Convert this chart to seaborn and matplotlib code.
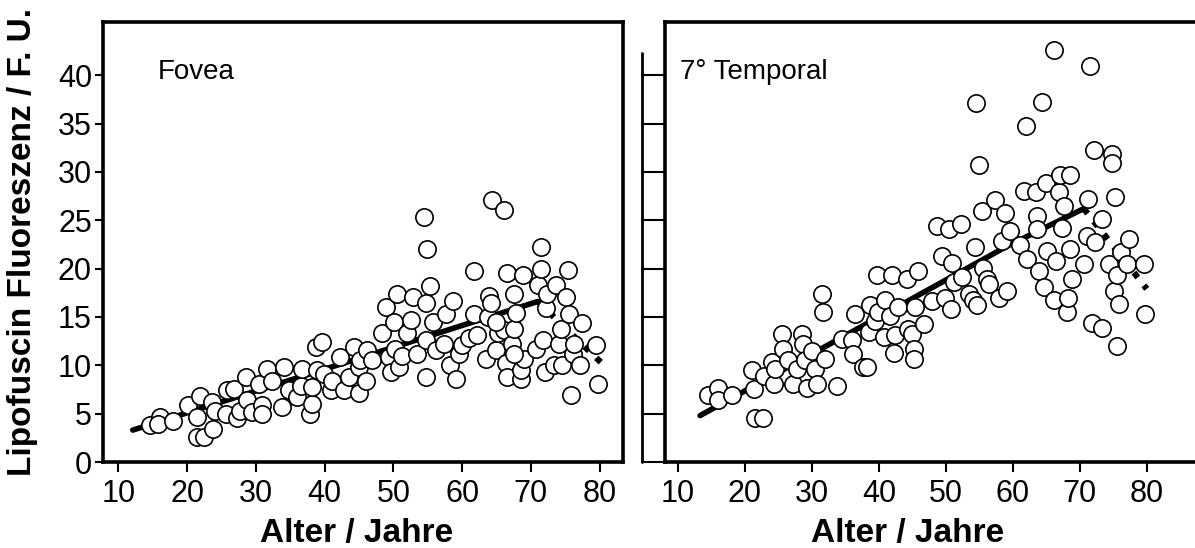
import numpy as np
import pandas as pd
import matplotlib.pyplot as plt
import seaborn as sns
from matplotlib.lines import Line2D

# ---------------- Daten ----------------
fovea_alter = [14.6, 16.0, 15.8, 17.9, 20.2, 21.4, 21.9, 21.4, 22.4, 23.8, 23.6, 24.1,
               25.8, 25.7, 26.8, 27.2, 27.7, 28.5, 28.7, 29.4, 30.4, 30.9, 30.9, 31.6,
               32.4, 33.8, 34.1, 34.8, 36.0, 36.5, 36.7, 37.9, 38.2, 38.2, 38.7, 38.9,
               39.6, 39.9, 40.9, 41.1, 42.3, 42.8, 43.5, 44.3, 45.0, 45.0, 45.2, 46.0,
               46.2, 46.9, 48.4, 48.9, 49.4, 49.6, 50.1, 50.3, 50.6, 50.8, 51.3, 52.0,
               52.5, 52.8, 53.5, 54.5, 54.7, 54.7, 54.8, 54.9, 55.4, 55.7, 56.2, 57.4,
               57.6, 58.3, 58.7, 59.1, 59.6, 60.0, 61.0, 61.7, 61.7, 62.2, 63.5, 63.7,
               63.9, 64.2, 64.4, 64.9, 65.2, 66.1, 66.1, 66.4, 66.6, 66.6, 67.3, 67.6,
               67.6, 67.8, 68.6, 68.8, 68.6, 69.0, 70.7, 71.0, 71.5, 71.5, 71.7, 72.0,
               72.2, 72.4, 73.4, 73.7, 74.1, 74.4, 74.6, 75.1, 75.4, 75.6, 75.8, 76.1,
               76.3, 77.1, 77.5, 79.5, 79.7, 64.9, 67.6]
fovea_wert = [3.8, 4.7, 3.9, 4.2, 5.9, 4.7, 6.8, 2.6, 2.6, 3.4, 6.2, 5.3,
              7.4, 5.0, 7.6, 4.5, 5.3, 8.8, 6.4, 5.2, 8.1, 5.9, 5.0, 9.6,
              8.4, 5.7, 9.8, 7.4, 6.7, 7.9, 9.6, 5.0, 6.0, 7.8, 11.9, 9.5,
              12.4, 9.1, 7.4, 8.4, 10.9, 7.4, 8.8, 11.9, 9.8, 7.1, 10.5, 8.4,
              11.6, 10.5, 13.3, 16.0, 10.9, 9.3, 14.5, 11.7, 17.4, 9.8, 11.0, 13.3,
              14.7, 17.1, 11.2, 25.3, 12.6, 16.4, 8.8, 22.0, 18.2, 14.5, 11.6, 12.2,
              15.3, 10.0, 16.6, 8.6, 11.2, 12.1, 12.8, 19.8, 15.3, 13.1, 10.7, 15.0,
              17.2, 16.4, 27.1, 11.6, 13.3, 26.1, 13.6, 10.2, 19.5, 8.8, 12.2, 17.4,
              13.8, 15.4, 8.6, 19.3, 9.5, 10.7, 11.7, 18.3, 22.2, 20.0, 12.6, 9.3,
              15.9, 17.4, 10.0, 18.3, 12.2, 13.8, 10.0, 17.1, 19.9, 15.3, 6.9, 11.2,
              12.2, 10.0, 14.4, 12.1, 8.1, 14.5, 11.2]

temporal_alter = [14.5, 16.0, 16.0, 18.0, 21.0, 21.5, 22.7, 21.3, 22.8, 24.0, 24.3, 24.5,
                  25.5, 25.7, 26.5, 27.2, 27.7, 28.5, 28.7, 29.0, 29.2, 30.0, 30.5, 30.7,
                  31.5, 31.7, 32.0, 33.7, 34.5, 36.0, 36.2, 36.5, 37.7, 38.2, 38.5, 38.7,
                  39.4, 39.7, 39.9, 40.7, 40.9, 41.7, 41.9, 42.2, 42.4, 42.9, 44.2, 44.4,
                  44.9, 45.2, 45.2, 45.4, 45.9, 46.7, 47.9, 48.7, 49.4, 49.9, 50.4, 50.7,
                  50.9, 51.2, 52.2, 52.4, 53.4, 54.1, 54.4, 54.5, 54.6, 55.0, 55.4, 55.6,
                  56.1, 56.4, 57.4, 57.9, 58.4, 58.9, 59.1, 59.6, 61.1, 61.9, 61.6, 62.1,
                  63.4, 63.6, 63.6, 63.9, 64.4, 64.6, 64.9, 65.1, 66.1, 66.4, 66.1, 66.9,
                  67.1, 67.3, 67.6, 68.1, 68.3, 68.6, 68.6, 68.8, 70.6, 71.1, 71.3, 71.6,
                  71.8, 72.1, 72.3, 73.3, 73.3, 74.3, 74.8, 74.8, 75.1, 75.3, 75.6, 75.6,
                  75.8, 76.1, 77.1, 77.3, 79.6, 79.8]
temporal_wert = [6.9, 7.7, 6.4, 6.9, 9.5, 4.5, 4.6, 7.6, 8.9, 10.3, 8.1, 9.6,
                 13.2, 11.7, 10.5, 8.1, 9.6, 13.2, 12.2, 10.5, 7.7, 11.5, 9.6, 8.1,
                 17.4, 15.5, 10.7, 7.9, 12.7, 12.6, 11.2, 15.3, 9.8, 9.8, 13.4, 16.2,
                 14.6, 19.3, 15.5, 12.9, 16.8, 15.1, 19.3, 11.3, 13.1, 16.0, 18.9, 13.8,
                 13.2, 11.7, 10.7, 16.0, 19.8, 14.3, 16.7, 24.4, 21.3, 17.0, 24.1, 15.8,
                 20.6, 18.6, 24.6, 19.1, 17.4, 16.8, 22.2, 37.1, 16.2, 30.7, 26.0, 20.1,
                 18.9, 18.4, 27.1, 17.0, 22.9, 25.8, 17.7, 23.9, 22.4, 34.7, 28.0, 21.0,
                 27.9, 25.4, 24.1, 19.7, 37.2, 18.1, 28.9, 21.8, 42.6, 20.8, 16.8, 27.9,
                 29.7, 24.2, 26.5, 15.5, 17.0, 29.7, 22.0, 18.9, 20.5, 23.4, 27.2, 40.9,
                 14.4, 32.3, 22.7, 13.9, 25.1, 20.5, 31.8, 30.9, 17.7, 27.4, 19.3, 12.0,
                 16.3, 21.7, 20.5, 23.1, 20.5, 15.3]

# Regressionslinien (durchgezogen / gepunktet)
fovea_fit_alter = [12.1, 71.0]
fovea_fit_wert = [3.3, 16.6]
fovea_fit2_alter = [71.0, 80.2]
fovea_fit2_wert = [16.6, 10.3]

temporal_fit_alter = [13.3, 44.2, 59.1, 70.6]
temporal_fit_wert = [4.8, 16.6, 22.3, 26.2]
temporal_fit2_alter = [70.6, 80.0]
temporal_fit2_wert = [26.2, 17.9]

x_ticks = [10, 20, 30, 40, 50, 60, 70, 80]
y_ticks = [0, 5, 10, 15, 20, 25, 30, 35, 40]

# ---------------- Stil ----------------
sns.set_theme(style="white")
plt.rcParams['font.family'] = ['Liberation Sans', 'DejaVu Sans']
plt.rcParams['axes.linewidth'] = 2.6
plt.rcParams['text.color'] = 'black'
plt.rcParams['axes.labelcolor'] = 'black'
plt.rcParams['xtick.color'] = 'black'
plt.rcParams['ytick.color'] = 'black'

W, H = 1195, 548
fig = plt.figure(figsize=(W / 100, H / 100), dpi=100)
ax1 = fig.add_axes([103 / W, 86 / H, 520 / W, 440 / H])
ax2 = fig.add_axes([665 / W, 86 / H, 540 / W, 440 / H])

punkte = dict(s=155, facecolor='white', edgecolor='black', linewidth=1.2, zorder=3)


def panel(ax, alter, wert, fa, fw, fa2, fw2, titel, xlim):
    df = pd.DataFrame({'Alter': alter, 'Wert': wert})
    sns.lineplot(x=fa, y=fw, color='black', linewidth=4, ax=ax, zorder=2)
    sns.lineplot(x=fa2, y=fw2, color='black', linewidth=4.5, ax=ax, zorder=2,
                 linestyle=(0, (1, 1.6)))
    sns.scatterplot(data=df, x='Alter', y='Wert', ax=ax, **punkte)
    ax.set_xlim(*xlim)
    ax.set_ylim(0, 45.5)
    ax.set_xticks(x_ticks)
    ax.set_yticks(y_ticks)
    ax.tick_params(axis='x', direction='out', length=7, width=1.5, labelsize=22,
                   bottom=True, pad=5, colors='black')
    ax.text(titel[1], 0.915, titel[0], transform=ax.transAxes, fontsize=20,
            va='top', ha='left', color='black')
    ax.set_xlabel('Alter / Jahre', fontsize=24, fontweight='bold', color='black')
    ax.grid(False)
    for s in ax.spines.values():
        s.set_color('black')


panel(ax1, fovea_alter, fovea_wert, fovea_fit_alter, fovea_fit_wert,
      fovea_fit2_alter, fovea_fit2_wert, ('Fovea', 0.106), (7.77, 83.4))
panel(ax2, temporal_alter, temporal_wert, temporal_fit_alter, temporal_fit_wert,
      temporal_fit2_alter, temporal_fit2_wert, ('7° Temporal', 0.028), (8.06, 88.7))

ax1.tick_params(axis='y', direction='out', length=6, width=1.5, labelsize=22,
                left=True, pad=2, colors='black')
ax1.set_ylabel('Lipofuscin Fluoreszenz / F. U.', fontsize=24, fontweight='bold',
               color='black')
ax1.yaxis.set_label_coords(-0.125, 0.5)
ax1.xaxis.set_label_coords(0.488, -0.128)

ax2.tick_params(axis='y', direction='out', length=17, width=1.5, left=True,
                labelleft=False)
ax2.set_ylabel('')
ax2.xaxis.set_label_coords(0.45, -0.128)

# zusätzliche Achsenlinie links vom rechten Panel
fig.add_artist(Line2D([642 / W, 642 / W], [86 / H, 495 / H], color='black', lw=2))

fig.savefig('out.png', dpi=100)
